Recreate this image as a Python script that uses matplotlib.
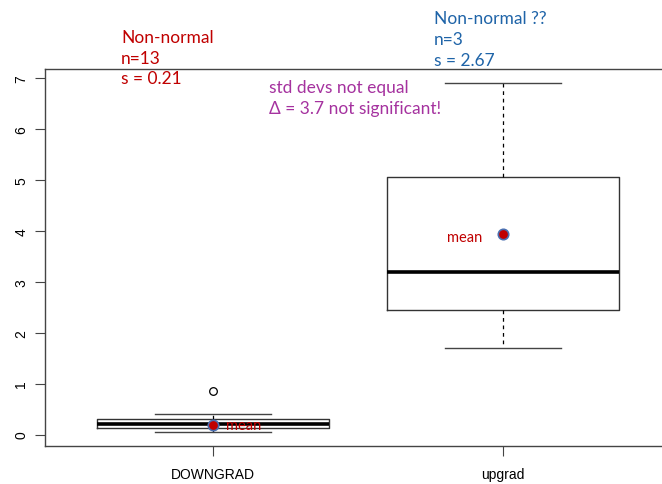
import matplotlib
matplotlib.use("Agg")
import matplotlib.pyplot as plt

# box statistics
groups = ["DOWNGRAD", "upgrad"]
q1 = [0.12, 2.45]
med = [0.20, 3.20]
q3 = [0.31, 5.05]
whislo = [0.05, 1.70]
whishi = [0.41, 6.90]
fliers = [[0.86], []]
means = [0.18, 3.93]

RED = "#C00000"
BLUE = "#1F64A8"
PURPLE = "#A5329F"

fig = plt.figure(figsize=(6.62, 4.85), dpi=100)
ax = fig.add_axes([45 / 662, 38 / 485, 626 / 662, 377 / 485])

stats = [dict(label=g, q1=a, med=m, q3=b, whislo=lo, whishi=hi, fliers=f)
         for g, a, m, b, lo, hi, f in zip(groups, q1, med, q3, whislo, whishi, fliers)]
ax.bxp(stats, positions=[1, 2], widths=0.8, showfliers=True,
       boxprops=dict(color="#333333", lw=1.0),
       medianprops=dict(color="black", lw=2.6),
       whiskerprops=dict(color="black", lw=0.9, ls=(0, (3, 3))),
       capprops=dict(color="#444444", lw=1.0),
       capwidths=0.4,
       flierprops=dict(marker="o", mfc="white", mec="black", ms=5.5, mew=0.9))

ax.plot([1, 2], means, ls="none", marker="o", ms=7.5, mfc=RED, mec="#4A6FB0", mew=1.2,
        zorder=5)

ax.set_xlim(0.42, 2.58)
ax.set_ylim(-0.224, 7.174)
ax.set_yticks(range(0, 8))
ax.set_yticklabels([str(v) for v in range(0, 8)], rotation=90, va="center",
                   fontsize=10, family="Liberation Sans")
ax.set_xticks([1, 2])
ax.set_xticklabels(groups, fontsize=10, family="Liberation Sans")
ax.tick_params(axis="both", length=7, width=0.8, color="#444444")
ax.tick_params(axis="x", pad=8)
ax.tick_params(axis="y", pad=5)
for s in ax.spines.values():
    s.set_color("#444444")
    s.set_linewidth(1.0)

ax.text(1.045, means[0], "mean", color=RED, fontsize=10.5, family="Lato",
        ha="left", va="center")
ax.text(1.93, means[1] - 0.05, "mean", color=RED, fontsize=10.5, family="Lato",
        ha="right", va="center")

def ftext(x, y, s, color, size=12.5):
    fig.text(x / 662, 1 - y / 485, s, color=color, fontsize=size, family="Lato",
             ha="left", va="center")

for i, s in enumerate(["Non-normal", "n=13", "s = 0.21"]):
    ftext(121, 38 + 20.5 * i, s, RED)
for i, s in enumerate(["Non-normal ??", "n=3", "s = 2.67"]):
    ftext(434, 19 + 21 * i, s, BLUE)
ftext(269, 88, "std devs not equal", PURPLE)
ftext(269, 109, "\u0394 = 3.7 not significant!", PURPLE)

fig.savefig("out.png", dpi=100)
